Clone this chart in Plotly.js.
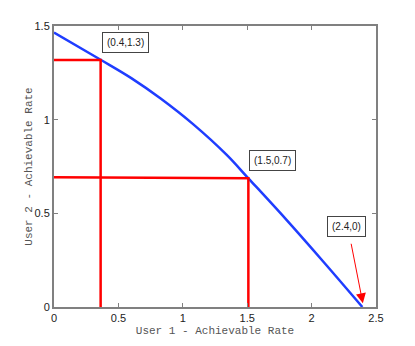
<!DOCTYPE html>
<html>
<head>
<meta charset="utf-8">
<script src="https://cdn.plot.ly/plotly-3.0.1.min.js"></script>
<style>
  html, body { margin: 0; padding: 0; background: #fff; }
  #chart { width: 415px; height: 346px; }
</style>
</head>
<body>
<div id="chart"></div>
<script>
// rate region boundary
const curveX = [0, 0.362, 0.6, 0.828, 1.082, 1.341, 1.509, 1.8, 2.1, 2.394];
const curveY = [1.465, 1.320, 1.222, 1.113, 0.975, 0.812, 0.687, 0.469, 0.235, 0];

// operating points marked with red guide lines
const guideA_X = [0, 0.362, 0.362];
const guideA_Y = [1.319, 1.319, 0];
const guideB_X = [0, 1.509, 1.509];
const guideB_Y = [0.693, 0.687, 0];

const labelText = ["(0.4,1.3)", "(1.5,0.7)", "(2.4,0)"];
const labelX = [0.555, 1.70, 2.27];
const labelY = [1.41, 0.782, 0.43];

const tickFont = { family: "Liberation Sans, Arial, sans-serif", size: 11, color: "#222" };
const titleFont = { family: "Liberation Mono, Courier New, monospace", size: 11, color: "#555" };

const traces = [
    {
        x: curveX, y: curveY,
        type: "scatter", mode: "lines",
        line: { color: "#1f3dff", width: 2.5, shape: "spline", smoothing: 1 },
        hoverinfo: "skip",
    },
    {
        x: guideA_X, y: guideA_Y,
        type: "scatter", mode: "lines",
        line: { color: "#ff0000", width: 2.5 },
        hoverinfo: "skip",
    },
    {
        x: guideB_X, y: guideB_Y,
        type: "scatter", mode: "lines",
        line: { color: "#ff0000", width: 2.5 },
        hoverinfo: "skip",
    },
];

const annotations = labelText.map((t, i) => ({
    x: labelX[i], y: labelY[i], xref: "x", yref: "y",
    text: t, showarrow: false,
    font: { family: "Liberation Sans, Arial, sans-serif", size: 10, color: "#222" },
    bgcolor: "#fff", bordercolor: "#444", borderwidth: 1, borderpad: 4,
}));

// red arrow pointing at (2.4, 0)
annotations.push({
    x: 2.398, y: 0.02, xref: "x", yref: "y",
    text: "", showarrow: true,
    ax: -12, ay: -61,
    arrowcolor: "#ff0000", arrowwidth: 1, arrowhead: 2, arrowsize: 2,
});

const axisBase = {
    showline: true, linecolor: "#808080", linewidth: 2, mirror: "ticks",
    ticks: "inside", ticklen: 4, tickcolor: "#808080", tickwidth: 1,
    showgrid: false, zeroline: false, tickfont: tickFont, automargin: true,
};

const layout = {
    width: 415, height: 346,
    margin: { l: 54, r: 39, t: 26, b: 39 },
    paper_bgcolor: "#fff", plot_bgcolor: "#fff",
    showlegend: false,
    xaxis: {
        ...axisBase,
        range: [0, 2.5], tickvals: [0, 0.5, 1, 1.5, 2, 2.5],
        ticktext: ["0", "0.5", "1", "1.5", "2", "2.5"],
        title: { text: "User 1 - Achievable Rate", font: titleFont, standoff: 3 },
    },
    yaxis: {
        ...axisBase,
        range: [0, 1.5], tickvals: [0, 0.5, 1, 1.5],
        ticktext: ["0", "0.5", "1", "1.5"],
        title: { text: "User 2 - Achievable Rate", font: titleFont, standoff: 0 },
    },
    annotations: annotations,
};

Plotly.newPlot("chart", traces, layout, { displayModeBar: false, staticPlot: true });
</script>
</body>
</html>
